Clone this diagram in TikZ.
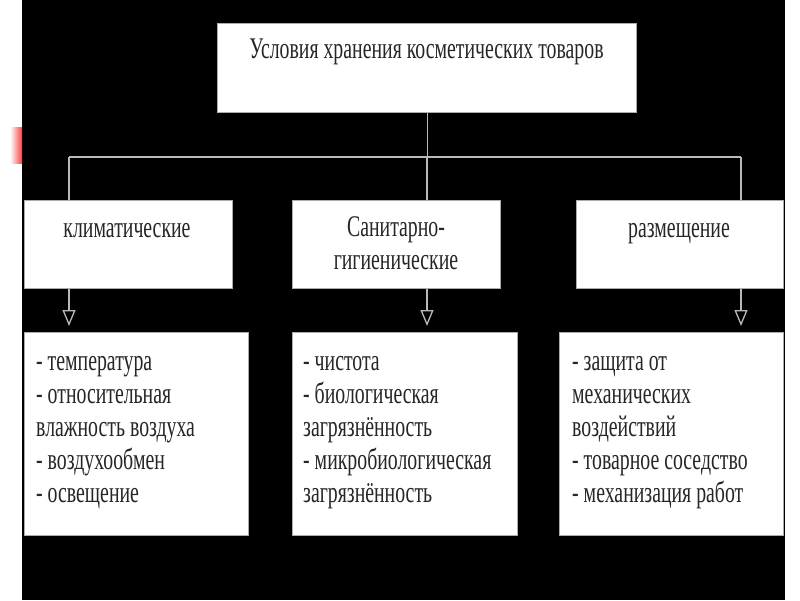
\documentclass[tikz,border=0pt]{standalone}
\usepackage{fontspec}
\setmainfont{Liberation Serif}[FakeStretch=0.66]
\usetikzlibrary{arrows.meta}
\tikzset{
  box/.style={draw=gray!65,line width=1.3pt,fill=white,inner sep=0pt,anchor=north west},
  txt/.style={inner sep=0pt,font=\fontsize{30}{33}\selectfont,text=black!85},
  link/.style={draw=gray!55,line width=1.3pt},
  arr/.style={link,shorten >=6pt,-{Triangle[open,length=16pt,width=13pt]}}
}
\begin{document}
\begin{tikzpicture}[x=1pt,y=-1pt]
\useasboundingbox (0,0) rectangle (800,600);
\fill[white] (0,0) rectangle (800,600);
\fill[black] (22,0) rectangle (785,600);
\shade[left color=white,right color=red!75] (10,127) rectangle (22,163);
% top
\node[box,minimum width=419pt,minimum height=89pt] (top) at (217,23) {};
\node[txt,anchor=base] (ttop) at (426.5,58) {Условия хранения косметических товаров};
% second row
\node[box,minimum width=208pt,minimum height=88pt] (klim) at (24,200) {};
\node[box,minimum width=208pt,minimum height=88pt] (san) at (292,200) {};
\node[box,minimum width=207pt,minimum height=88pt] (razm) at (576,200) {};
\node[txt,anchor=base] (tklim) at (127,237) {климатические};
\node[txt,anchor=base,align=center] (tsan) at (396,269) {Санитарно-\\гигиенические};
\node[txt,anchor=base] (trazm) at (679,237) {размещение};
% third row (base = last line)
\node[box,minimum width=224pt,minimum height=203pt] (klist) at (24,332) {};
\node[box,minimum width=225pt,minimum height=203pt] (slist) at (292,332) {};
\node[box,minimum width=224pt,minimum height=203pt] (rlist) at (559,332) {};
\node[txt,anchor=base west,align=left] (tk) at (36,502) {- температура\\- относительная\\влажность воздуха\\- воздухообмен\\- освещение};
\node[txt,anchor=base west,align=left] (ts) at (303,502) {- чистота\\- биологическая\\загрязнённость\\- микробиологическая\\загрязнённость};
\node[txt,anchor=base west,align=left] (tr) at (572,502) {- защита от\\механических\\воздействий\\- товарное соседство\\- механизация работ};
% connectors
\coordinate (kx) at (69,157);
\coordinate (sx) at (427,157);
\coordinate (rx) at (741,157);
\draw[link] (top.south) -- (top.south |- sx);
\draw[link] (kx) -- (rx);
\foreach \c/\a/\b in {kx/klim/klist,sx/san/slist,rx/razm/rlist}{
  \draw[link] (\c) -- (\c |- \a.north);
  \draw[arr] (\c |- \a.south) -- (\c |- \b.north);
}
\end{tikzpicture}
\end{document}
